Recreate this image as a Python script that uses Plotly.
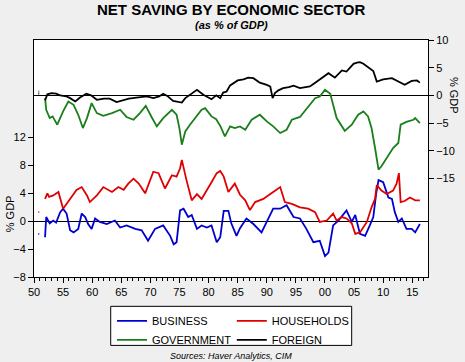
import plotly.graph_objects as go

# ---------------- data ----------------
business_years = [1950.75, 1950.9, None, 1951.9, 1952.1, 1952.7, 1953.3, 1953.8, 1954.5, 1955.0, 1955.6, 1956.2,
                  1956.8, 1957.6, 1958.2, 1958.8, 1959.3, 1959.9, 1960.5, 1961.3, 1962.5, 1963.9, 1964.8,
                  1965.9, 1967.4, 1968.5, 1969.6, 1970.8, 1972.2, 1973.4, 1974.0, 1974.5, 1975.1, 1975.7,
                  1976.5, 1977.1, 1978.0, 1978.8, 1979.7, 1980.5, 1981.4, 1982.0, 1982.6, 1983.4, 1983.9,
                  1984.8, 1985.4, 1986.5, 1987.7, 1989.1, 1990.0, 1991.1, 1992.3, 1993.4, 1994.6, 1995.7,
                  1996.8, 1998.0, 1999.1, 2000.0, 2000.6, 2001.4, 2002.3, 2003.2, 2003.7, 2004.6, 2005.2,
                  2006.0, 2006.9, 2007.7, 2008.3, 2008.8, 2009.2, 2010.0, 2010.9, 2011.5, 2012.0, 2012.6,
                  2013.2, 2014.0, 2014.9, 2015.5, 2016.1, 2016.3]
business_vals = [-1.8, -1.8, None, -2.3, 0.6, -0.3, 0.1, -0.2, 1.3, 1.8, 1.1, -1.3,
                 -1.6, -1.1, 1.1, 0.6, -0.4, -1.1, 0.4, -0.1, -0.4, 0.1, -0.9,
                 -0.6, -1.1, -1.3, -2.8, -1.1, -0.6, -2.1, -3.3, -3.0, 1.55, 1.8,
                 0.6, 0.9, -1.1, -0.6, -0.9, -0.6, -3.0, -2.3, 1.5, 1.5, -0.3,
                 -2.1, -1.0, 0.4, -0.4, -1.6, -0.1, 1.8, 1.8, 2.3, 0.6, 0.4,
                 -1.1, -3.0, -2.8, -5.0, -4.5, -0.6, 0.1, 1.1, 1.55, -0.1, 0.9,
                 -1.8, -2.1, -0.6, 0.6, 4.0, 5.9, 5.6, 3.4, 3.2, 1.3, -0.1,
                 0.4, -1.1, -1.1, -1.6, -0.6, -0.4]

households_years = [1950.75, 1950.9, None, 1951.9, 1952.3, 1952.6, 1953.3, 1954.2, 1955.0, 1956.2, 1957.3, 1958.2,
                    1959.1, 1959.6, 1960.8, 1961.9, 1963.4, 1964.5, 1965.4, 1966.2, 1967.1, 1968.0, 1969.1,
                    1970.5, 1971.4, 1972.5, 1973.7, 1974.5, 1975.1, 1975.4, 1975.8, 1976.2, 1977.1, 1978.0,
                    1978.8, 1979.4, 1980.5, 1981.4, 1982.0, 1982.6, 1983.4, 1984.5, 1985.4, 1986.3, 1987.1,
                    1988.0, 1989.4, 1991.1, 1992.3, 1993.1, 1994.3, 1995.7, 1997.1, 1998.3, 1999.1, 2000.3,
                    2001.4, 2002.0, 2002.9, 2003.7, 2004.6, 2005.2, 2006.0, 2007.2, 2008.0, 2008.6, 2008.9,
                    2009.7, 2010.6, 2011.7, 2012.3, 2012.7, 2013.0, 2013.7, 2014.6, 2015.5, 2016.3]
households_vals = [1.3, 1.3, None, 3.2, 4.0, 3.5, 3.7, 4.2, 1.8, 3.2, 4.5, 4.9,
                   3.7, 2.75, 3.7, 4.9, 4.2, 4.9, 4.5, 5.4, 6.1, 5.4, 4.0,
                   7.1, 6.9, 4.7, 6.6, 6.4, 7.6, 8.8, 7.3, 5.9, 3.0, 3.9,
                   3.2, 4.0, 5.6, 6.9, 7.2, 6.4, 4.2, 5.4, 3.8, 3.0, 1.6,
                   2.75, 3.2, 4.2, 4.9, 2.75, 2.5, 2.0, 1.8, 1.3, -0.1, 0.1,
                   1.1, 0.1, 0.6, 0.4, -0.3, -1.8, -1.6, -0.1, 2.0, 3.2, 5.2,
                   4.4, 3.9, 4.4, 5.4, 6.9, 2.75, 2.9, 3.4, 3.0, 3.0]

government_years = [1950.75, 1950.9, None, 1951.9, 1952.1, 1952.7, 1953.2, 1954.0, 1955.0, 1955.9, 1956.8, 1957.6,
                    1958.4, 1959.1, 1959.9, 1960.8, 1961.9, 1963.4, 1964.8, 1965.9, 1967.1, 1968.2, 1969.2,
                    1970.2, 1971.1, 1972.2, 1973.7, 1974.5, 1975.0, 1975.4, 1976.0, 1976.8, 1977.7, 1978.8,
                    1979.4, 1980.5, 1981.3, 1982.0, 1982.8, 1983.7, 1984.5, 1985.4, 1986.3, 1987.4, 1988.8,
                    1990.0, 1991.1, 1992.3, 1993.4, 1994.3, 1995.7, 1997.1, 1998.3, 1999.1, 2000.0, 2000.9,
                    2001.4, 2002.0, 2003.4, 2004.6, 2005.7, 2006.6, 2007.4, 2008.0, 2008.6, 2009.2, 2009.7,
                    2010.6, 2011.7, 2012.6, 2013.0, 2014.0, 2015.2, 2015.5, 2016.3]
government_vals = [0.7, 0.7, None, -0.5, -2.6, -4.1, -3.8, -5.3, -2.9, -1.1, -1.7, -3.5,
                   -5.9, -4.1, -1.4, -3.2, -3.7, -3.2, -2.6, -3.9, -4.4, -3.2, -1.9,
                   -3.9, -5.6, -4.1, -2.6, -3.5, -6.0, -8.9, -6.5, -5.3, -4.1, -2.6,
                   -2.3, -3.8, -4.3, -5.5, -7.4, -5.6, -5.9, -5.6, -6.2, -4.4, -3.5,
                   -4.7, -5.6, -6.8, -6.2, -4.4, -3.9, -2.0, -0.5, -0.2, 1.0, 0.3,
                   -1.7, -4.1, -6.4, -5.3, -3.5, -2.9, -3.8, -5.9, -9.5, -13.4, -12.8,
                   -11.3, -9.5, -8.6, -5.3, -4.8, -4.4, -4.1, -5.0]

foreign_years = [1950.75, 1950.9, None, 1951.9, 1952.3, 1953.0, 1953.8, 1954.5, 1955.6, 1956.2, 1957.1, 1957.9,
                 1959.0, 1959.8, 1960.8, 1962.0, 1963.0, 1964.2, 1965.2, 1966.3, 1967.6, 1969.4, 1970.5,
                 1971.5, 1972.2, 1972.9, 1973.9, 1975.4, 1976.0, 1976.8, 1978.0, 1979.1, 1980.5, 1981.3,
                 1982.0, 1982.5, 1983.1, 1983.7, 1984.2, 1985.0, 1986.0, 1986.8, 1987.7, 1988.8, 1990.0,
                 1990.6, 1991.0, 1991.4, 1992.0, 1992.8, 1993.8, 1994.6, 1995.7, 1996.5, 1997.4, 1998.2,
                 1999.1, 2000.0, 2000.6, 2001.7, 2002.9, 2003.7, 2004.3, 2004.9, 2005.5, 2006.0, 2006.6,
                 2007.2, 2008.0, 2008.3, 2008.9, 2010.0, 2011.5, 2012.9, 2013.7, 2014.9, 2015.8, 2016.3]
foreign_vals = [0.3, 0.3, None, -0.9, 0.2, 0.4, 0.3, 0.0, -0.2, -0.5, -1.1, -0.4,
                0.3, 0.0, -0.8, -0.6, -0.6, -1.2, -0.9, -0.6, -0.4, -0.2, -0.5,
                -0.2, 0.3, -0.1, -1.0, -1.3, -0.5, 0.1, 1.0, 0.1, -0.7, 0.0,
                -0.5, 0.5, 0.7, 1.8, 2.2, 2.7, 2.9, 3.2, 3.1, 2.3, 1.9,
                1.6, -0.5, 0.4, 0.9, 1.3, 1.5, 1.75, 1.3, 1.5, 1.6, 2.2,
                2.9, 3.5, 4.0, 3.2, 4.5, 4.3, 5.0, 5.7, 5.9, 6.0, 5.7,
                5.2, 4.6, 4.4, 2.5, 2.9, 3.1, 2.3, 1.9, 2.6, 2.7, 2.3]

x_tick_vals = [1950, 1955, 1960, 1965, 1970, 1975, 1980, 1985, 1990, 1995, 2000, 2005, 2010, 2015]
x_tick_text = ["50", "55", "60", "65", "70", "75", "80", "85", "90", "95", "00", "05", "10", "15"]
left_ticks = [-8, -4, 0, 4, 8, 12]
right_ticks = [-15, -10, -5, 0, 5, 10]

# ---------------- figure ----------------
FONT = "Arial, Liberation Sans, sans-serif"
W = 1.8

fig = go.Figure()
fig.add_trace(go.Scatter(x=business_years, y=business_vals, name="BUSINESS", mode="lines",
                         line=dict(color="#0000d0", width=W), connectgaps=False, yaxis="y",
                         legend="legend"))
fig.add_trace(go.Scatter(x=households_years, y=households_vals, name="HOUSEHOLDS", mode="lines",
                         line=dict(color="#e00000", width=W), connectgaps=False, yaxis="y",
                         legend="legend2"))
fig.add_trace(go.Scatter(x=government_years, y=government_vals, name="GOVERNMENT", mode="lines",
                         line=dict(color="#1a7f1a", width=W), connectgaps=False, yaxis="y2",
                         legend="legend"))
fig.add_trace(go.Scatter(x=foreign_years, y=foreign_vals, name="FOREIGN", mode="lines",
                         line=dict(color="#000000", width=W), connectgaps=False, yaxis="y2",
                         legend="legend2"))

legend_common = dict(orientation="v", y=-0.1238, xanchor="left", yanchor="top",
                     bgcolor="rgba(0,0,0,0)", borderwidth=0, itemwidth=30,
                     font=dict(family=FONT, size=11), tracegroupgap=0)

fig.update_layout(
    width=465, height=362,
    margin=dict(l=34, r=37, t=40, b=85, pad=0, autoexpand=False),
    paper_bgcolor="#efefef",
    plot_bgcolor="#ffffff",
    font=dict(family=FONT, size=11, color="#000000"),
    showlegend=True,
    xaxis=dict(range=[1950, 2017.7], tickvals=x_tick_vals, ticktext=x_tick_text,
               ticks="outside", ticklen=5, tickcolor="#000", tickwidth=1,
               minor=dict(dtick=1, tick0=1950, ticks="outside", ticklen=3, tickcolor="#000", showgrid=False),
               showline=True, linecolor="#000", linewidth=1, mirror=True,
               showgrid=False, zeroline=False, tickfont=dict(size=11)),
    yaxis=dict(range=[-8, 26], tickvals=left_ticks, ticks="outside", ticklen=5, tickcolor="#000",
               showline=True, linecolor="#000", linewidth=1, showgrid=False,
               zeroline=True, zerolinecolor="#000", zerolinewidth=1, tickfont=dict(size=11)),
    yaxis2=dict(range=[-32.8, 10], tickvals=right_ticks, overlaying="y", side="right",
                ticks="outside", ticklen=5, tickcolor="#000",
                showline=True, linecolor="#000", linewidth=1, showgrid=False,
                zeroline=True, zerolinecolor="#000", zerolinewidth=1, tickfont=dict(size=11)),
    legend=dict(x=0.198, **legend_common),
    legend2=dict(x=0.502, **legend_common),
    shapes=[
        dict(type="rect", xref="paper", yref="paper", x0=0.1947, x1=0.8063, y0=-0.2886, y1=-0.1238,
             fillcolor="#ffffff", line=dict(color="#000000", width=1), layer="above"),
    ],
    annotations=[
        dict(text="<b>NET SAVING BY ECONOMIC SECTOR</b>", x=0.5, y=1.127, xref="paper", yref="paper",
             xanchor="center", yanchor="middle", showarrow=False, font=dict(size=15, family=FONT)),
        dict(text="<b><i>(as % of GDP)</i></b>", x=0.5, y=1.063, xref="paper", yref="paper",
             xanchor="center", yanchor="middle", showarrow=False, font=dict(size=11, family=FONT)),
        dict(text="% GDP", x=-0.061, y=0.269, xref="paper", yref="paper", textangle=-90,
             xanchor="center", yanchor="middle", showarrow=False, font=dict(size=11, family=FONT)),
        dict(text="% GDP", x=1.066, y=0.768, xref="paper", yref="paper", textangle=90,
             xanchor="center", yanchor="middle", showarrow=False, font=dict(size=11, family=FONT)),
        dict(text="<i>Sources: Haver Analytics, CIM</i>", x=0.5, y=-0.333, xref="paper", yref="paper",
             xanchor="center", yanchor="middle", showarrow=False, font=dict(size=9, family=FONT)),
    ],
)

# the page's default 8px body margin would shift the whole figure; remove it
fig.write_html("out.html", config={"displayModeBar": False},
               post_script="document.body.style.margin='0px';")
